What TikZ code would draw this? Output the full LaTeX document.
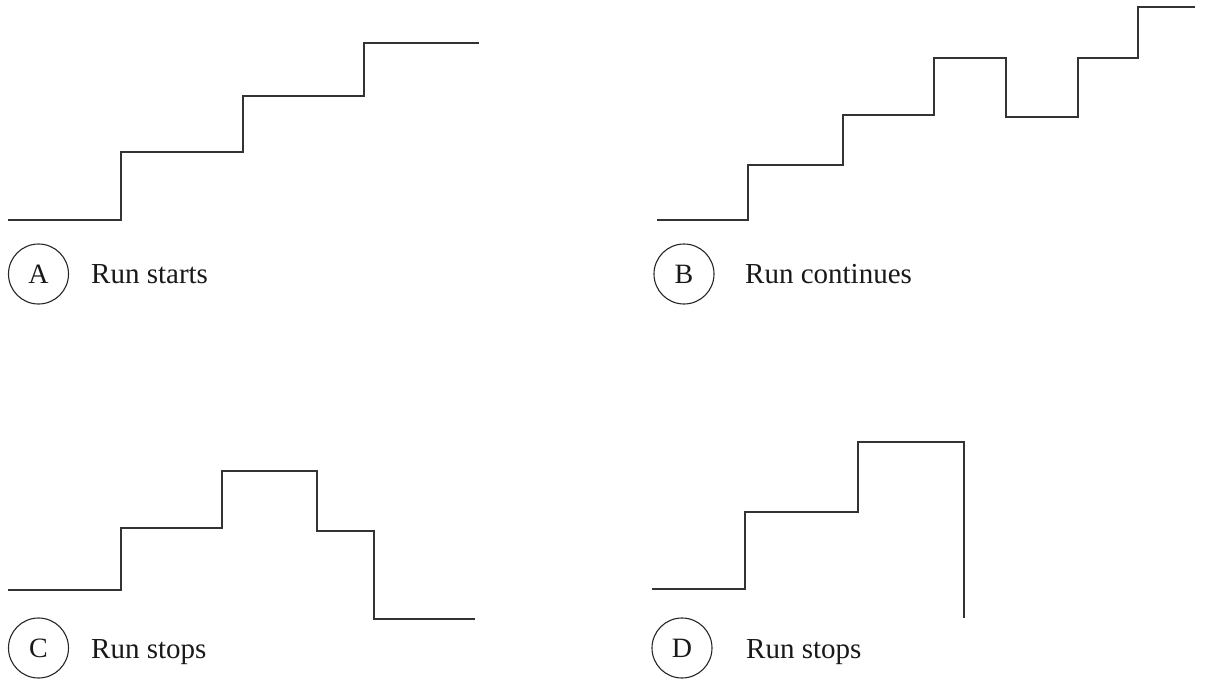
\documentclass[tikz,border=0pt]{standalone}
\usepackage{fontspec}
\setmainfont{Liberation Serif}
\begin{document}
\begin{tikzpicture}[x=1pt,y=-1pt,
  stair/.style={line width=1.6pt, draw=black!80, line join=miter},
  lab/.style={circle, draw=black!85, line width=1.1pt, minimum size=60pt, inner sep=0pt, font=\fontsize{28}{30}\selectfont, text=black!90},
  captxt/.style={anchor=base west, inner sep=0pt, font=\fontsize{29}{32}\selectfont, text=black!90}]
\useasboundingbox (0,0) rectangle (1211,678);
% A
\draw[stair] (8,220) -- (121,220) -- (121,152) -- (243,152) -- (243,96) -- (364,96) -- (364,43) -- (479,43);
\node[lab] (la) at (38.5,274) {A};
\node[captxt] (ta) at (91,283) {Run starts};
% B
\draw[stair] (657,220) -- (748,220) -- (748,165) -- (843,165) -- (843,115) -- (934,115) -- (934,58) -- (1006,58) -- (1006,117) -- (1078,117) -- (1078,58) -- (1138,58) -- (1138,7) -- (1195,7);
\node[lab] (lb) at (684,274) {B};
\node[captxt] (tb) at (745,283) {Run continues};
% C
\draw[stair] (8,590) -- (121,590) -- (121,528) -- (222,528) -- (222,471) -- (317,471) -- (317,531) -- (374,531) -- (374,619) -- (475,619);
\node[lab] (lc) at (38.5,648) {C};
\node[captxt] (tc) at (91,658) {Run stops};
% D
\draw[stair] (652,589) -- (745,589) -- (745,512) -- (858,512) -- (858,442) -- (964,442) -- (964,618);
\node[lab] (ld) at (682,648) {D};
\node[captxt] (td) at (746,658) {Run stops};
\end{tikzpicture}
\end{document}
